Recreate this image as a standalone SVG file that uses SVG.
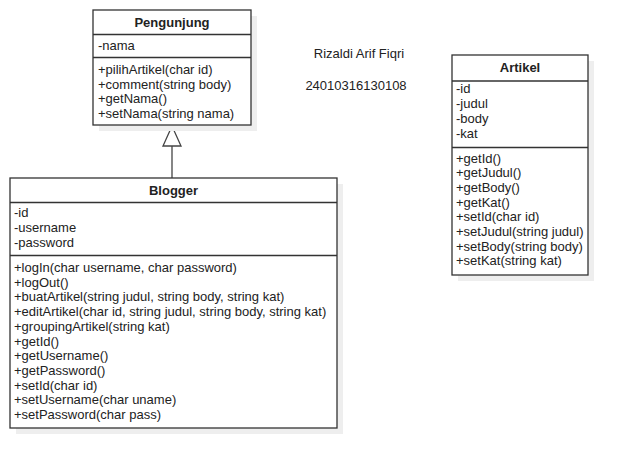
<svg xmlns="http://www.w3.org/2000/svg" width="628" height="468" viewBox="0 0 628 468">
<style>
text{font-family:"Liberation Sans",Arial,sans-serif;font-size:13px;fill:#222}
.t{font-weight:bold;text-anchor:middle}
.box{fill:#fff;stroke:#333;stroke-width:1.3}
.sh{fill:#eeeeee}
.sep{stroke:#333;stroke-width:1.3}
.c{stroke:#444;stroke-width:1.3;fill:none}
</style>
<rect width="628" height="468" fill="#fff"/>
<g id="connectors">
<line class="c" x1="172" y1="146" x2="172" y2="178"/>
<polygon class="c" fill="#fff" points="172,126 163,146 181,146" style="fill:#fff"/>
</g>
<g id="pengunjung">
<rect class="sh" x="99" y="16" width="158" height="115"/>
<rect class="box" x="93" y="10" width="158" height="115"/>
<line class="sep" x1="93" y1="34.5" x2="251" y2="34.5"/>
<line class="sep" x1="93" y1="57.5" x2="251" y2="57.5"/>
<text class="t" x="172" y="27">Pengunjung</text>
<text x="98" y="50">-nama</text>
<text x="98" y="74">+pilihArtikel(char id)</text>
<text x="98" y="88.7">+comment(string body)</text>
<text x="98" y="103.4">+getNama()</text>
<text x="98" y="118.1">+setNama(string nama)</text>
</g>
<g id="blogger">
<rect class="sh" x="16" y="184" width="327" height="250"/>
<rect class="box" x="10" y="178" width="327" height="250"/>
<line class="sep" x1="10" y1="202.5" x2="337" y2="202.5"/>
<line class="sep" x1="10" y1="255.5" x2="337" y2="255.5"/>
<text class="t" x="173.5" y="195">Blogger</text>
<text x="14" y="217">-id</text>
<text x="14" y="232">-username</text>
<text x="14" y="247">-password</text>
<text x="14" y="272">+logIn(char username, char password)</text>
<text x="14" y="286.7">+logOut()</text>
<text x="14" y="301.4">+buatArtikel(string judul, string body, string kat)</text>
<text x="14" y="316.1">+editArtikel(char id, string judul, string body, string kat)</text>
<text x="14" y="330.8">+groupingArtikel(string kat)</text>
<text x="14" y="345.5">+getId()</text>
<text x="14" y="360.2">+getUsername()</text>
<text x="14" y="374.9">+getPassword()</text>
<text x="14" y="389.6">+setId(char id)</text>
<text x="14" y="404.3">+setUsername(char uname)</text>
<text x="14" y="419">+setPassword(char pass)</text>
</g>
<g id="artikel">
<rect class="sh" x="458" y="61" width="136" height="220"/>
<rect class="box" x="452" y="55" width="136" height="220"/>
<line class="sep" x1="452" y1="81" x2="588" y2="81"/>
<line class="sep" x1="452" y1="147.5" x2="588" y2="147.5"/>
<text class="t" x="520" y="72">Artikel</text>
<text x="456" y="93">-id</text>
<text x="456" y="108">-judul</text>
<text x="456" y="123">-body</text>
<text x="456" y="138">-kat</text>
<text x="456" y="162.5">+getId()</text>
<text x="456" y="177.2">+getJudul()</text>
<text x="456" y="191.9">+getBody()</text>
<text x="456" y="206.6">+getKat()</text>
<text x="456" y="221.3">+setId(char id)</text>
<text x="456" y="236">+setJudul(string judul)</text>
<text x="456" y="250.7">+setBody(string body)</text>
<text x="456" y="265.4">+setKat(string kat)</text>
</g>
<g id="labels">
<text x="359" y="58" text-anchor="middle">Rizaldi Arif Fiqri</text>
<text x="356" y="90" text-anchor="middle">24010316130108</text>
</g>
</svg>
